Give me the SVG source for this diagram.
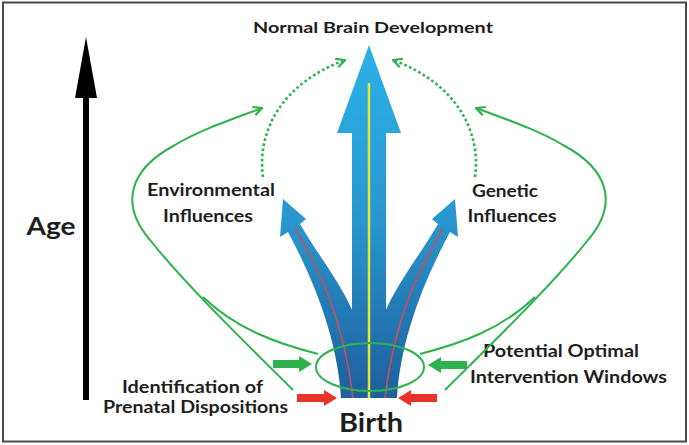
<svg xmlns="http://www.w3.org/2000/svg" xmlns:xlink="http://www.w3.org/1999/xlink" width="689" height="445" viewBox="0 0 689 445">
<style>
.t{font-family:Lato,"Open Sans","Liberation Sans",sans-serif;font-weight:bold;fill:#1e1e1e}
.g{fill:none;stroke:#2db24e;stroke-width:2}
.dot{fill:none;stroke:#2db24e;stroke-width:2.6;stroke-dasharray:2.6 2.6}
.red{fill:none;stroke:#c0505a;stroke-width:1.6}
</style>
<defs>
<linearGradient id="blue" gradientUnits="userSpaceOnUse" x1="0" y1="45" x2="0" y2="398">
<stop offset="0" stop-color="#2bb2e8"/>
<stop offset="0.5" stop-color="#2896cf"/>
<stop offset="1" stop-color="#1d5f9c"/>
</linearGradient>
<marker id="chev" viewBox="0 0 10 10" refX="9" refY="5" markerWidth="11" markerHeight="11" markerUnits="userSpaceOnUse" orient="auto">
<path d="M1,1 L9,5 L1,9" fill="none" stroke="#2db24e" stroke-width="2" stroke-dasharray="none"/>
</marker>
<path id="branch" d="M283,199 L306,219 L300,224 C320,258 340,282 353,312 L353,398 L341,398 C338,345 318,288 288,232 L280,237 Z"/>
<path id="redline" d="M295,228 C318,268 343,315 353,398"/>
</defs>
<rect x="3" y="2.5" width="683" height="439" fill="#fff" stroke="#4a4a4a" stroke-width="2"/>

<g id="age-axis">
<path d="M83,98 L89,98 L89,400 L83,400 Z" fill="#000"/>
<path d="M86,37 L97,98 L75,98 Z" fill="#000"/>
<text class="t" x="51" y="235" font-size="25" text-anchor="middle" textLength="49" lengthAdjust="spacingAndGlyphs">Age</text>
</g>

<g id="brain-development">
<use xlink:href="#branch" fill="url(#blue)"/>
<use xlink:href="#branch" fill="url(#blue)" transform="matrix(-1 0 0 1 738 0)"/>
<path d="M369,45 L401,133 L386,133 L386,398 L352,398 L352,133 L337,133 Z" fill="url(#blue)"/>
<use xlink:href="#redline" class="red"/>
<use xlink:href="#redline" class="red" transform="matrix(-1 0 0 1 738 0)"/>
<line x1="369" y1="83" x2="369" y2="398" stroke="#e4e632" stroke-width="2.5"/>
</g>

<g id="title">
<text class="t" x="373" y="33" font-size="16" text-anchor="middle" textLength="240" lengthAdjust="spacingAndGlyphs">Normal Brain Development</text>
</g>

<g id="environmental">
<text class="t" x="211" y="196" font-size="16.5" text-anchor="middle" textLength="128" lengthAdjust="spacingAndGlyphs">Environmental</text>
<text class="t" x="208" y="222" font-size="16.5" text-anchor="middle" textLength="90" lengthAdjust="spacingAndGlyphs">Influences</text>
</g>

<g id="genetic">
<text class="t" x="505" y="197" font-size="16.5" text-anchor="middle" textLength="66" lengthAdjust="spacingAndGlyphs">Genetic</text>
<text class="t" x="512" y="222" font-size="16.5" text-anchor="middle" textLength="89" lengthAdjust="spacingAndGlyphs">Influences</text>
</g>

<g id="identification">
<text class="t" x="192.5" y="393" font-size="16.5" text-anchor="middle" textLength="141" lengthAdjust="spacingAndGlyphs">Identification of</text>
<text class="t" x="195.5" y="413" font-size="16.5" text-anchor="middle" textLength="185" lengthAdjust="spacingAndGlyphs">Prenatal Dispositions</text>
</g>

<g id="windows">
<ellipse cx="370" cy="367" rx="54" ry="24" class="g"/>
<text class="t" x="561" y="357" font-size="16.5" text-anchor="middle" textLength="156" lengthAdjust="spacingAndGlyphs">Potential Optimal</text>
<text class="t" x="568.5" y="383" font-size="16.5" text-anchor="middle" textLength="197" lengthAdjust="spacingAndGlyphs">Intervention Windows</text>
</g>

<g id="birth">
<text class="t" x="371" y="432" font-size="26" text-anchor="middle" textLength="64" lengthAdjust="spacingAndGlyphs">Birth</text>
</g>

<g id="connectors">
<path class="g" d="M293,390 C260,357 190,290 150,240 C120,205 128,170 175,145 C200,130 230,120 262,108" marker-end="url(#chev)"/>
<path class="g" d="M318,354 C275,343 235,328 203,297"/>
<path class="g" d="M445,390 C478,357 548,290 588,240 C618,205 610,170 563,145 C538,130 508,120 476,108" marker-end="url(#chev)"/>
<path class="g" d="M420,354 C463,343 503,328 535,297"/>
<path class="dot" d="M263,177 C257,135 278,85 345,60" marker-end="url(#chev)"/>
<path class="dot" d="M475,177 C481,135 460,85 393,60" marker-end="url(#chev)"/>
<path d="M273,360 L299,360 L299,356 L312,364 L299,372 L299,368 L273,368 Z" fill="#2db24e"/>
<path d="M467,361 L441,361 L441,357 L428,365 L441,373 L441,369 L467,369 Z" fill="#2db24e"/>
<path d="M297,394 L324,394 L324,390 L337,398 L324,406 L324,402 L297,402 Z" fill="#ec3329"/>
<path d="M437,394 L411,394 L411,390 L398,398 L411,406 L411,402 L437,402 Z" fill="#ec3329"/>
</g>
</svg>
